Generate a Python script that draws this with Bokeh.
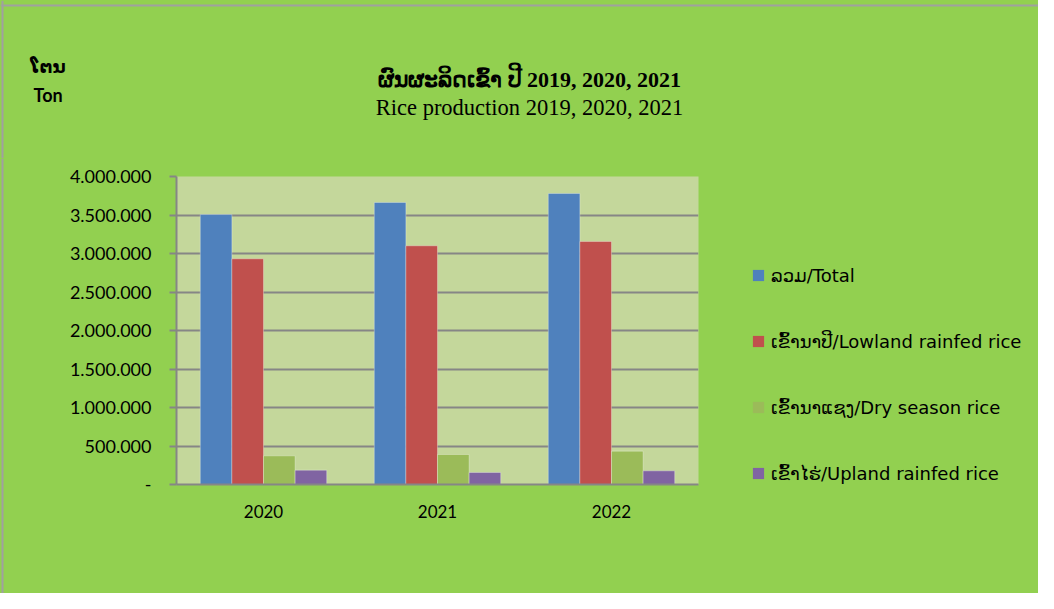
from bokeh.plotting import figure
from bokeh.models import (FactorRange, Range1d, FixedTicker, Legend, LegendItem,
                          Label, ColumnDataSource, Span)
from bokeh.layouts import column, row
from bokeh.transform import dodge
from bokeh.embed import file_html
from bokeh.resources import INLINE

years = ["2020", "2021", "2022"]
total = [3506000, 3662000, 3779000]
lowland = [2931000, 3100000, 3156000]
dry_season = [372000, 390000, 433000]
upland = [186000, 156000, 177000]

series_names = ["ລວມ/Total", "ເຂົ້ານາປີ/Lowland rainfed rice",
                "ເຂົ້ານາແຊງ/Dry season rice", "ເຂົ້າໄຮ່/Upland rainfed rice"]
series_colors = ["#4F81BD", "#C0504D", "#9BBB59", "#8064A2"]

y_ticks = [0, 500000, 1000000, 1500000, 2000000, 2500000, 3000000, 3500000, 4000000]
y_tick_labels = ["-", "500.000", "1.000.000", "1.500.000", "2.000.000",
                 "2.500.000", "3.000.000", "3.500.000", "4.000.000"]

title_lao = "ຜົນຜະລິດເຂົ້າ ປີ 2019, 2020, 2021"
title_en = "Rice production 2019, 2020, 2021"
unit_lao = "ໂຕນ"
unit_en = "Ton"

GREEN = "#92D050"
EDGE = "#A0A0A0"
W = 1038
H = 593
HEAD_H = 158
SPACER_W = 4
CHART_W = 738


def blank(fig):
    fig.background_fill_color = GREEN
    fig.border_fill_color = GREEN
    fig.outline_line_color = None
    fig.xgrid.visible = False
    fig.ygrid.visible = False


def bare_fig(w, h, xr, yr):
    f = figure(width=w, height=h, output_backend="svg", toolbar_location=None,
               x_range=xr, y_range=yr, x_axis_type=None, y_axis_type=None,
               frame_align=False, min_border=0, min_border_left=0,
               min_border_right=0, min_border_top=0, min_border_bottom=0)
    blank(f)
    return f


# ---------------- header (titles) ----------------
head = bare_fig(W, HEAD_H, Range1d(0, W), Range1d(HEAD_H, 0))
head.add_layout(Span(location=5, dimension="width", line_color=EDGE, line_width=2))
head.add_layout(Span(location=2, dimension="height", line_color=EDGE, line_width=2))

head.add_layout(Label(x=529, y=79, text=title_lao, text_align="center",
                      text_baseline="alphabetic", text_font="Liberation Serif",
                      text_font_style="bold", text_font_size="22px",
                      text_color="#000000"))
head.add_layout(Label(x=529, y=107, text=title_en, text_align="center",
                      text_baseline="alphabetic", text_font="Liberation Serif",
                      text_font_size="22.5px", text_color="#000000"))
head.add_layout(Label(x=30, y=66, text=unit_lao, text_align="left",
                      text_baseline="alphabetic", text_font="DejaVu Sans",
                      text_font_style="bold", text_font_size="18px",
                      text_color="#000000"))
head.add_layout(Label(x=33, y=94, text=unit_en, text_align="left",
                      text_baseline="alphabetic", text_font="Lato",
                      text_font_style="bold", text_font_size="18px",
                      text_color="#000000"))

# ---------------- left edge strip ----------------
spacer = bare_fig(SPACER_W, H - HEAD_H, Range1d(0, SPACER_W), Range1d(0, 1))
spacer.add_layout(Span(location=2, dimension="height", line_color=EDGE, line_width=2))

# ---------------- chart ----------------
source = ColumnDataSource(dict(year=years, total=total, lowland=lowland,
                               dry=dry_season, upland=upland))

p = figure(width=CHART_W - SPACER_W, height=H - HEAD_H, output_backend="svg",
           toolbar_location=None,
           x_range=FactorRange(factors=years), y_range=Range1d(0, 4000000),
           frame_align=False,
           min_border_left=176 - SPACER_W, min_border_right=40, min_border_top=18,
           min_border_bottom=109)

p.background_fill_color = "#C4D79B"
p.border_fill_color = GREEN
p.outline_line_color = None

bw = 0.1817
offsets = [-1.5 * bw, -0.5 * bw, 0.5 * bw, 1.5 * bw]
cols = ["total", "lowland", "dry", "upland"]
for col, off, color in zip(cols, offsets, series_colors):
    p.vbar(x=dodge("year", off, range=p.x_range), top=col, width=bw,
           source=source, fill_color=color, line_color="white",
           line_alpha=0.3, line_width=1)

p.xgrid.grid_line_color = None
p.ygrid.grid_line_color = "#868686"
p.ygrid.grid_line_width = 2
p.ygrid.ticker = FixedTicker(ticks=y_ticks)

p.yaxis.ticker = FixedTicker(ticks=y_ticks)
p.yaxis.major_label_overrides = {t: l for t, l in zip(y_ticks, y_tick_labels)}
p.yaxis.axis_line_color = "#868686"
p.yaxis.axis_line_width = 2
p.yaxis.major_tick_line_color = "#868686"
p.yaxis.major_tick_line_width = 2
p.yaxis.major_tick_out = 7
p.yaxis.major_tick_in = 0
p.yaxis.minor_tick_line_color = None
p.yaxis.major_label_standoff = 18
p.yaxis.major_label_text_font = "Lato"
p.yaxis.major_label_text_font_size = "18px"
p.yaxis.major_label_text_color = "#000000"

p.xaxis.axis_line_color = "#868686"
p.xaxis.axis_line_width = 2
p.xaxis.major_tick_line_color = None
p.xaxis.minor_tick_line_color = None
p.xaxis.major_label_standoff = 14
p.xaxis.major_label_text_font = "Lato"
p.xaxis.major_label_text_font_size = "17px"
p.xaxis.major_label_text_color = "#000000"

# ---------------- legend panel ----------------
LEG_W = W - CHART_W
lf = bare_fig(LEG_W, H - HEAD_H, Range1d(0, 1), Range1d(0, 1))

# hidden stand-ins (same series data) so the legend can draw its swatches
legend_renderers = []
for col, color in zip(cols, series_colors):
    r = lf.vbar(x=col, top=col, width=1, source=source, fill_color=color,
                line_color=None)
    r.visible = False
    legend_renderers.append(r)

items = [LegendItem(label=n, renderers=[r])
         for n, r in zip(series_names, legend_renderers)]
legend = Legend(items=items, location=(13, 109), padding=0, margin=0,
                spacing=44, glyph_width=14, glyph_height=14, label_height=22,
                label_standoff=6, label_text_font="DejaVu Sans",
                label_text_font_size="18px", label_text_color="#000000",
                border_line_color=None, background_fill_alpha=0,
                inactive_fill_alpha=0, click_policy="none")
lf.add_layout(legend, "center")

layout = column(head, row(spacer, p, lf, spacing=0), spacing=0,
                styles={"background-color": GREEN})
open("out.html", "w").write(file_html(layout, INLINE))
